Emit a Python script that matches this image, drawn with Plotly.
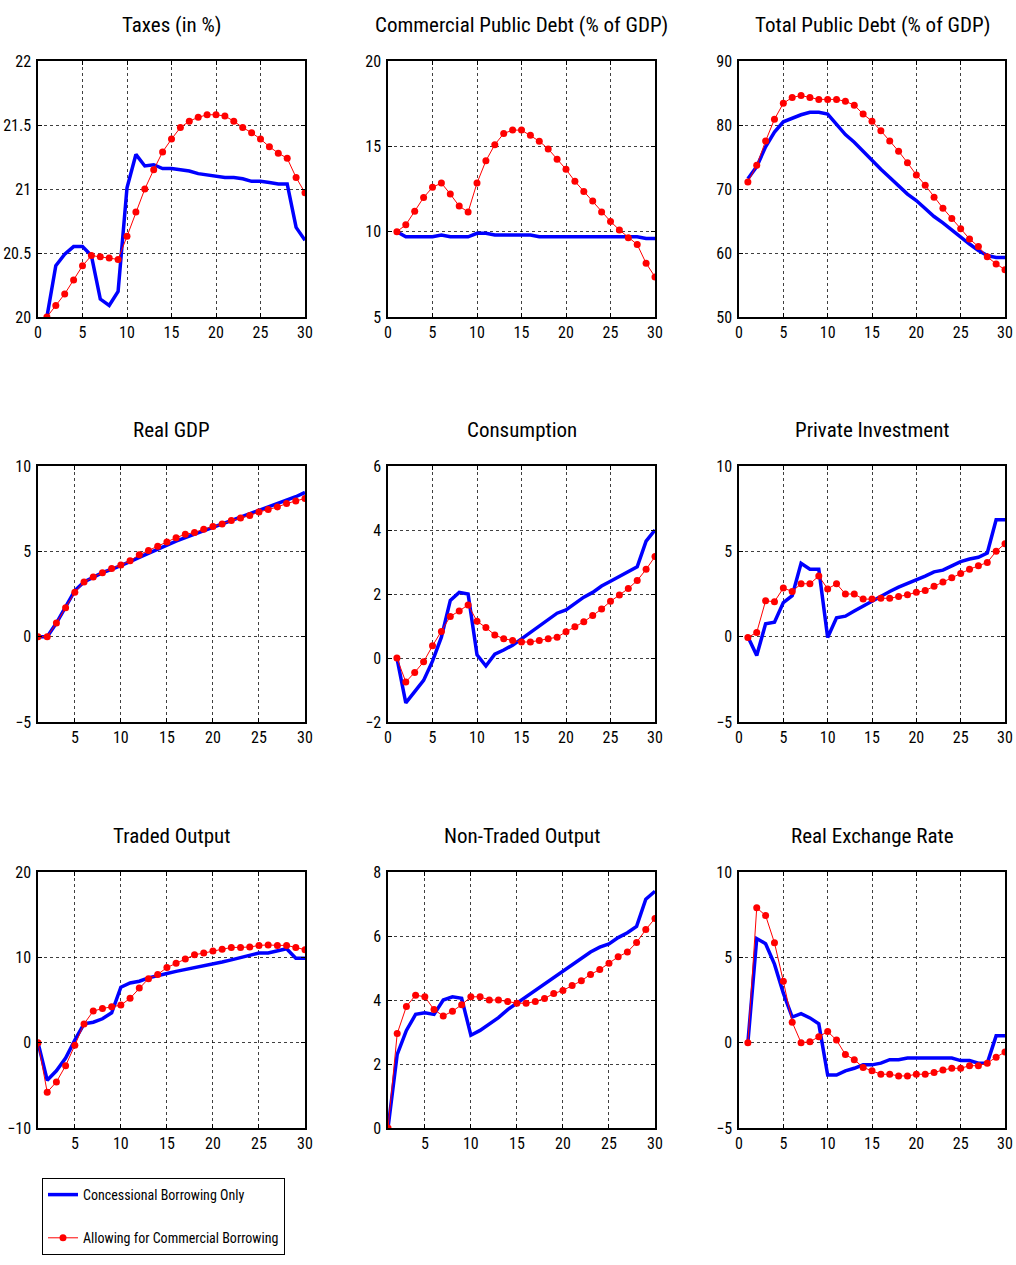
import plotly.graph_objects as go

periods = list(range(1, 31))

titles = ["Taxes (in %)", "Commercial Public Debt (% of GDP)", "Total Public Debt (% of GDP)",
          "Real GDP", "Consumption", "Private Investment",
          "Traded Output", "Non-Traded Output", "Real Exchange Rate"]

series_names = ["Concessional Borrowing Only", "Allowing for Commercial Borrowing"]

taxes_conc = [20.0, 20.4, 20.49, 20.55, 20.55, 20.48, 20.14, 20.09, 20.2, 21.01, 21.27, 21.18, 21.19, 21.16, 21.16,
              21.15, 21.14, 21.12, 21.11, 21.1, 21.09, 21.09, 21.08, 21.06, 21.06, 21.05, 21.04, 21.04, 20.7, 20.6]
taxes_comm = [20.0, 20.09, 20.18, 20.29, 20.4, 20.48, 20.47, 20.46, 20.45, 20.63, 20.82, 21.0, 21.15, 21.29, 21.39,
              21.48, 21.53, 21.56, 21.58, 21.58, 21.57, 21.53, 21.48, 21.44, 21.39, 21.33, 21.28, 21.24, 21.09, 20.97]

cdebt_conc = [10.0, 9.7, 9.7, 9.7, 9.7, 9.8, 9.7, 9.7, 9.7, 9.9, 9.9, 9.8, 9.8, 9.8, 9.8,
              9.8, 9.7, 9.7, 9.7, 9.7, 9.7, 9.7, 9.7, 9.7, 9.7, 9.7, 9.7, 9.7, 9.6, 9.6]
cdebt_comm = [10.0, 10.4, 11.2, 12.0, 12.6, 12.85, 12.2, 11.5, 11.15, 12.85, 14.15, 15.1, 15.75, 15.95, 15.95,
              15.65, 15.3, 14.85, 14.25, 13.65, 12.95, 12.35, 11.8, 11.15, 10.6, 10.1, 9.65, 9.25, 8.15, 7.35]

tdebt_conc = [71.6, 73.5, 76.6, 78.9, 80.5, 81.1, 81.6, 82.0, 82.0, 81.7, 80.0, 78.5, 77.3, 75.9, 74.4,
              73.1, 71.8, 70.5, 69.2, 68.2, 66.9, 65.7, 64.7, 63.6, 62.4, 61.4, 60.4, 59.6, 59.3, 59.3]
tdebt_comm = [71.1, 73.7, 77.5, 80.9, 83.4, 84.3, 84.6, 84.3, 84.0, 84.0, 84.0, 83.7, 83.1, 81.7, 80.6,
              79.1, 77.5, 75.9, 74.1, 72.2, 70.6, 68.7, 67.0, 65.4, 63.8, 62.2, 61.0, 59.4, 58.3, 57.4]

gdp_conc = [0.0, 0.0, 0.8, 1.8, 2.7, 3.2, 3.5, 3.75, 3.95, 4.15, 4.4, 4.65, 4.9, 5.15, 5.4,
            5.6, 5.8, 6.0, 6.2, 6.4, 6.6, 6.8, 7.0, 7.2, 7.4, 7.55, 7.75, 7.95, 8.2, 8.45]
gdp_comm = [0.0, 0.0, 0.8, 1.7, 2.6, 3.2, 3.5, 3.75, 4.0, 4.2, 4.45, 4.8, 5.05, 5.3, 5.55,
            5.8, 6.0, 6.1, 6.3, 6.45, 6.6, 6.8, 6.95, 7.1, 7.3, 7.45, 7.6, 7.8, 7.95, 8.1]

cons_conc = [0.0, -1.4, -1.05, -0.7, -0.1, 0.65, 1.8, 2.05, 2.0, 0.1, -0.25, 0.12, 0.25, 0.4, 0.6,
             0.8, 1.0, 1.2, 1.4, 1.5, 1.7, 1.9, 2.05, 2.25, 2.4, 2.55, 2.7, 2.85, 3.65, 4.0]
cons_comm = [0.0, -0.75, -0.45, -0.12, 0.38, 0.83, 1.3, 1.47, 1.66, 1.15, 0.95, 0.72, 0.6, 0.55, 0.5,
             0.5, 0.55, 0.6, 0.65, 0.82, 0.98, 1.13, 1.33, 1.53, 1.77, 1.97, 2.17, 2.42, 2.77, 3.17]

inv_conc = [0.0, -1.1, 0.75, 0.85, 2.0, 2.4, 4.3, 3.95, 3.95, -0.05, 1.1, 1.2, 1.5, 1.8, 2.1,
            2.4, 2.65, 2.9, 3.1, 3.3, 3.55, 3.8, 3.9, 4.15, 4.4, 4.55, 4.65, 4.9, 6.85, 6.85]
inv_comm = [-0.05, 0.25, 2.1, 2.05, 2.85, 2.65, 3.1, 3.1, 3.55, 2.8, 3.1, 2.5, 2.5, 2.2, 2.2,
            2.25, 2.25, 2.35, 2.45, 2.6, 2.7, 2.95, 3.2, 3.45, 3.7, 3.95, 4.15, 4.35, 5.0, 5.45]

trad_conc = [0.0, -4.4, -3.3, -1.8, 0.3, 2.2, 2.4, 2.8, 3.5, 6.5, 7.0, 7.2, 7.6, 7.9, 8.1,
             8.35, 8.55, 8.8, 9.05, 9.25, 9.45, 9.7, 9.95, 10.2, 10.5, 10.5, 10.8, 11.0, 9.9, 9.9]
trad_comm = [0.0, -5.8, -4.6, -2.7, -0.3, 2.2, 3.7, 4.0, 4.2, 4.4, 5.2, 6.4, 7.5, 8.0, 8.8,
             9.3, 9.8, 10.3, 10.5, 10.75, 10.95, 11.15, 11.15, 11.2, 11.4, 11.45, 11.4, 11.4, 11.15, 10.9]

nont_conc = [0.0, 2.3, 3.05, 3.55, 3.6, 3.55, 4.0, 4.1, 4.05, 2.9, 3.05, 3.25, 3.45, 3.7, 3.9,
             4.1, 4.3, 4.5, 4.7, 4.9, 5.1, 5.3, 5.5, 5.65, 5.75, 5.95, 6.1, 6.3, 7.15, 7.4]
nont_comm = [0.0, 2.95, 3.8, 4.15, 4.1, 3.7, 3.5, 3.65, 3.85, 4.1, 4.1, 4.0, 4.0, 3.95, 3.9,
             3.9, 3.95, 4.05, 4.2, 4.3, 4.45, 4.6, 4.8, 4.95, 5.15, 5.35, 5.5, 5.8, 6.2, 6.55]

rer_conc = [0.0, 6.1, 5.8, 4.6, 2.9, 1.5, 1.7, 1.45, 1.1, -1.9, -1.9, -1.65, -1.5, -1.3, -1.3,
            -1.2, -1.0, -1.0, -0.9, -0.9, -0.9, -0.9, -0.9, -0.9, -1.05, -1.05, -1.2, -1.2, 0.4, 0.4]
rer_comm = [0.0, 7.9, 7.45, 5.85, 3.6, 1.2, 0.0, 0.05, 0.35, 0.65, 0.15, -0.7, -1.0, -1.45, -1.65,
            -1.85, -1.85, -1.95, -1.95, -1.85, -1.85, -1.75, -1.6, -1.5, -1.5, -1.35, -1.35, -1.2, -0.85, -0.55]

conc_data = [taxes_conc, cdebt_conc, tdebt_conc, gdp_conc, cons_conc, inv_conc, trad_conc, nont_conc, rer_conc]
comm_data = [taxes_comm, cdebt_comm, tdebt_comm, gdp_comm, cons_comm, inv_comm, trad_comm, nont_comm, rer_comm]

y_ranges = [[20, 22], [5, 20], [50, 90], [-5, 10], [-2, 6], [-5, 10], [-10, 20], [0, 8], [-5, 10]]
y_dtick = [0.5, 5, 10, 5, 2, 5, 10, 2, 5]
x_ranges = [[0, 30], [0, 30], [0, 30], [1, 30], [0, 30], [0, 30], [1, 30], [1, 30], [0, 30]]

# layout in pixels
W, H = 1016, 1265
cols_px = [(38, 305), (388, 655), (739, 1005)]
rows_px = [(61, 317), (466, 722), (872, 1128)]
title_y_px = [25, 430, 836]

FONT = "Roboto Condensed, DejaVu Sans Condensed, Liberation Sans Narrow, Liberation Sans, Arial, sans-serif"

fig = go.Figure()
layout = {}
annotations = []
for i in range(9):
    r, c = divmod(i, 3)
    n = i + 1
    xa = "x" if n == 1 else f"x{n}"
    ya = "y" if n == 1 else f"y{n}"
    fig.add_trace(go.Scatter(
        x=periods, y=conc_data[i], mode="lines",
        line=dict(color="#0000FF", width=3.5),
        name=series_names[0], showlegend=(i == 0), legendgroup="conc", legendrank=1,
        xaxis=xa, yaxis=ya))
    fig.add_trace(go.Scatter(
        x=periods, y=comm_data[i], mode="lines+markers",
        line=dict(color="#FF0000", width=1),
        marker=dict(color="#FF0000", size=7, symbol="circle"),
        name=series_names[1], showlegend=(i == 0), legendgroup="comm", legendrank=2,
        xaxis=xa, yaxis=ya))
    x0, x1 = cols_px[c]
    y0, y1 = rows_px[r]
    axcommon = dict(showline=True, linecolor="black", linewidth=1.5, mirror="ticks",
                    ticks="inside", ticklen=4, tickcolor="black", automargin=False,
                    showgrid=True, gridcolor="rgba(0,0,0,0.75)", gridwidth=1, griddash="dot",
                    zeroline=False, tickfont=dict(family=FONT, size=16, color="black"))
    layout["xaxis" if n == 1 else f"xaxis{n}"] = dict(
        domain=[x0 / W, x1 / W], range=x_ranges[i], tick0=0, dtick=5,
        anchor=ya, **axcommon)
    layout["yaxis" if n == 1 else f"yaxis{n}"] = dict(
        domain=[1 - y1 / H, 1 - y0 / H], range=y_ranges[i], tick0=0, dtick=y_dtick[i],
        anchor=xa, ticklabelstandoff=2, **axcommon)
    annotations.append(dict(
        text=titles[i], xref="paper", yref="paper",
        x=(x0 + x1) / 2 / W, y=1 - title_y_px[r] / H,
        xanchor="center", yanchor="middle", showarrow=False,
        font=dict(family=FONT, size=21, color="black")))

fig.update_layout(**layout)
fig.update_layout(
    width=W, height=H,
    margin=dict(l=0, r=0, t=0, b=0),
    paper_bgcolor="white", plot_bgcolor="white",
    annotations=annotations,
    showlegend=True,
    legend=dict(x=42 / W, y=1 - 1178 / H, xanchor="left", yanchor="top",
                bordercolor="black", borderwidth=1, bgcolor="white",
                font=dict(family=FONT, size=14, color="black"),
                tracegroupgap=22),
)

fig.write_html("out.html",
               config={"displayModeBar": False},
               post_script="document.body.style.margin='0';document.body.style.overflow='hidden';")
